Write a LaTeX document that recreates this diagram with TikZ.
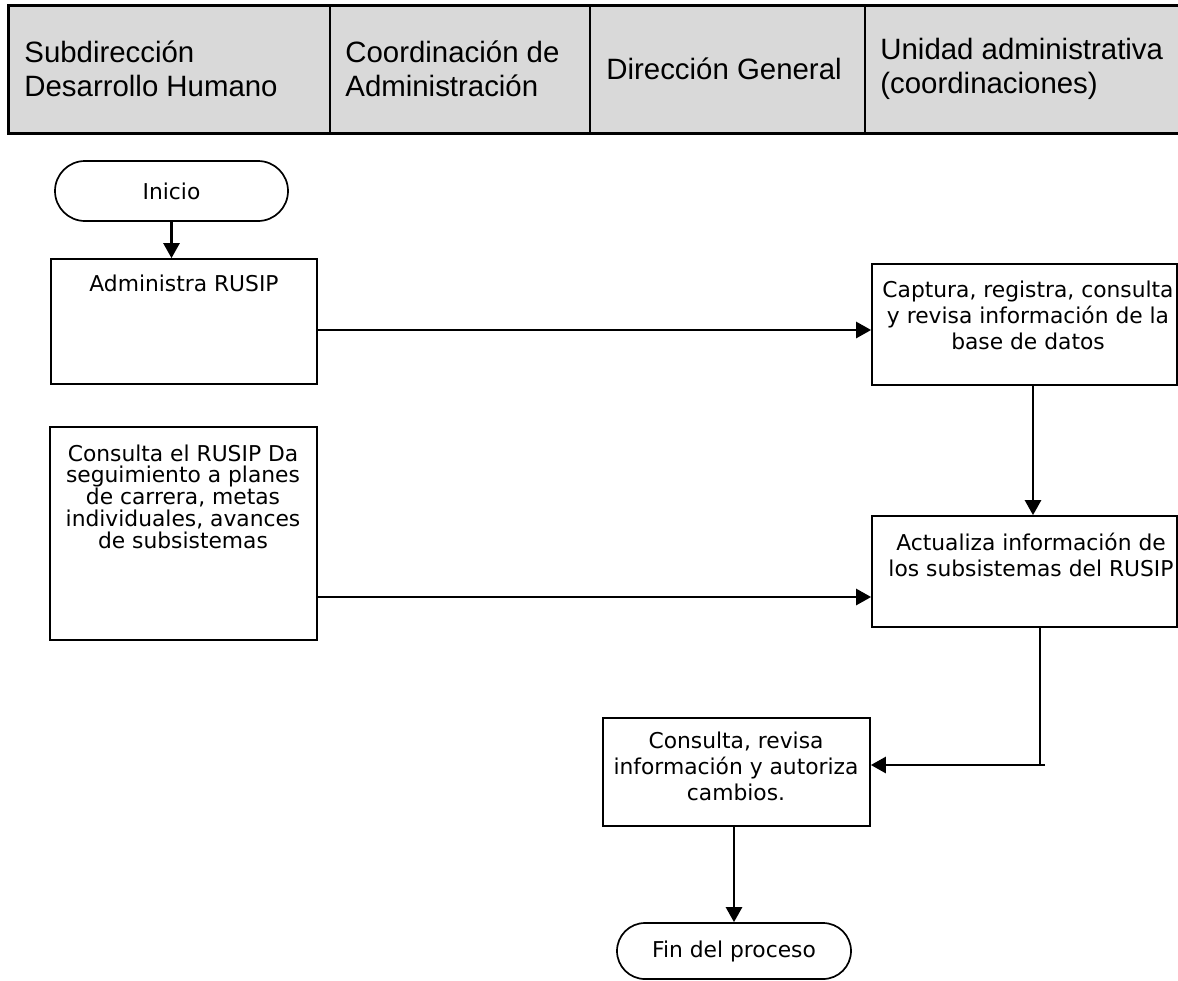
\documentclass[tikz,border=0pt]{standalone}
\usepackage{fontspec}
\setmainfont{DejaVu Sans}
\newfontfamily\hdrfont{Liberation Sans}
\usetikzlibrary{arrows.meta,shapes.misc}
\definecolor{hdrgray}{RGB}{217,217,217}
\begin{document}
\begin{tikzpicture}[x=0.5pt,y=-0.5pt,
  box/.style={draw, line width=0.85pt, inner sep=0pt},
  term/.style={draw, rounded rectangle, line width=0.85pt, minimum width=116.5pt, minimum height=30pt, inner sep=0pt, font=\fontsize{10.9}{13}\selectfont},
  arr/.style={line width=1.3pt, -{Triangle[length=7.5pt,width=8pt]}},
  body/.style={font=\fontsize{10.9}{13}\selectfont, align=center, inner sep=0pt},
  lane/.style={font=\hdrfont\fontsize{14.7}{17}\selectfont, align=left, anchor=west, inner sep=0pt}]
\useasboundingbox (0,0) rectangle (1178,980);
% header
\fill[hdrgray] (8,5) rectangle (1178,133);
\draw[line width=1.5pt] (1178,5) -- (8,5) -- (8,133) -- (1178,133);
\draw[line width=1pt] (330,5) -- (330,133) (590,5) -- (590,133) (865,5) -- (865,133);
\node[lane] (l1) at (24,69) {Subdirección\\Desarrollo Humano};
\node[lane] (l2) at (345,69) {Coordinación de\\Administración};
\node[lane] (l3) at (606,69) {Dirección General};
\node[lane] (l4) at (880,69) {Unidad administrativa\\(coordinaciones)};
% nodes
\node[term] (ini) at (171.5,191) {Inicio};
\node[box, minimum width=133pt, minimum height=62.5pt] (adm) at (184,321.5) {};
\node[body] (tadm) at (184,283) {Administra RUSIP};
\node[box, minimum width=152.5pt, minimum height=60.5pt] (cap) at (1024.5,324.5) {};
\node[body] (tcap) at (1028,315) {Captura, registra, consulta\\y revisa información de la\\base de datos};
\node[box, minimum width=133.5pt, minimum height=106.5pt] (crp) at (183.5,533.5) {};
\node[body, font=\fontsize{10.9}{10.85}\selectfont] (tcrp) at (183,496.5) {Consulta el RUSIP Da\\seguimiento a planes\\de carrera, metas\\individuales, avances\\de subsistemas};
\node[box, minimum width=152.5pt, minimum height=55.5pt] (act) at (1024.5,571.5) {};
\node[body] (tact) at (1031,555) {Actualiza información de\\los subsistemas del RUSIP};
\node[box, minimum width=133.5pt, minimum height=54pt] (rev) at (736.5,772) {};
\node[body] (trev) at (736,766.7) {Consulta, revisa\\información y autoriza\\cambios.};
\node[term, minimum width=117pt, minimum height=28pt] (fin) at (734,951) {Fin del proceso};
% connectors
\coordinate (y1) at (0,330);
\coordinate (x1) at (1033,0);
\coordinate (y2) at (0,597);
\coordinate (bend) at (1040,765);
\coordinate (x3) at (734,0);
\draw[arr] (ini.south) -- (ini.south |- adm.north);
\draw[arr] (adm.east |- y1) -- (cap.west |- y1);
\draw[arr] (cap.south -| x1) -- (act.north -| x1);
\draw[arr] (crp.east |- y2) -- (act.west |- y2);
\draw[line width=1.3pt] (act.south -| bend) -- (bend);
\draw[arr] ([xshift=2.5pt]bend) -- (rev.east |- bend);
\draw[arr] (rev.south -| x3) -- (fin.north -| x3);
\end{tikzpicture}
\end{document}
